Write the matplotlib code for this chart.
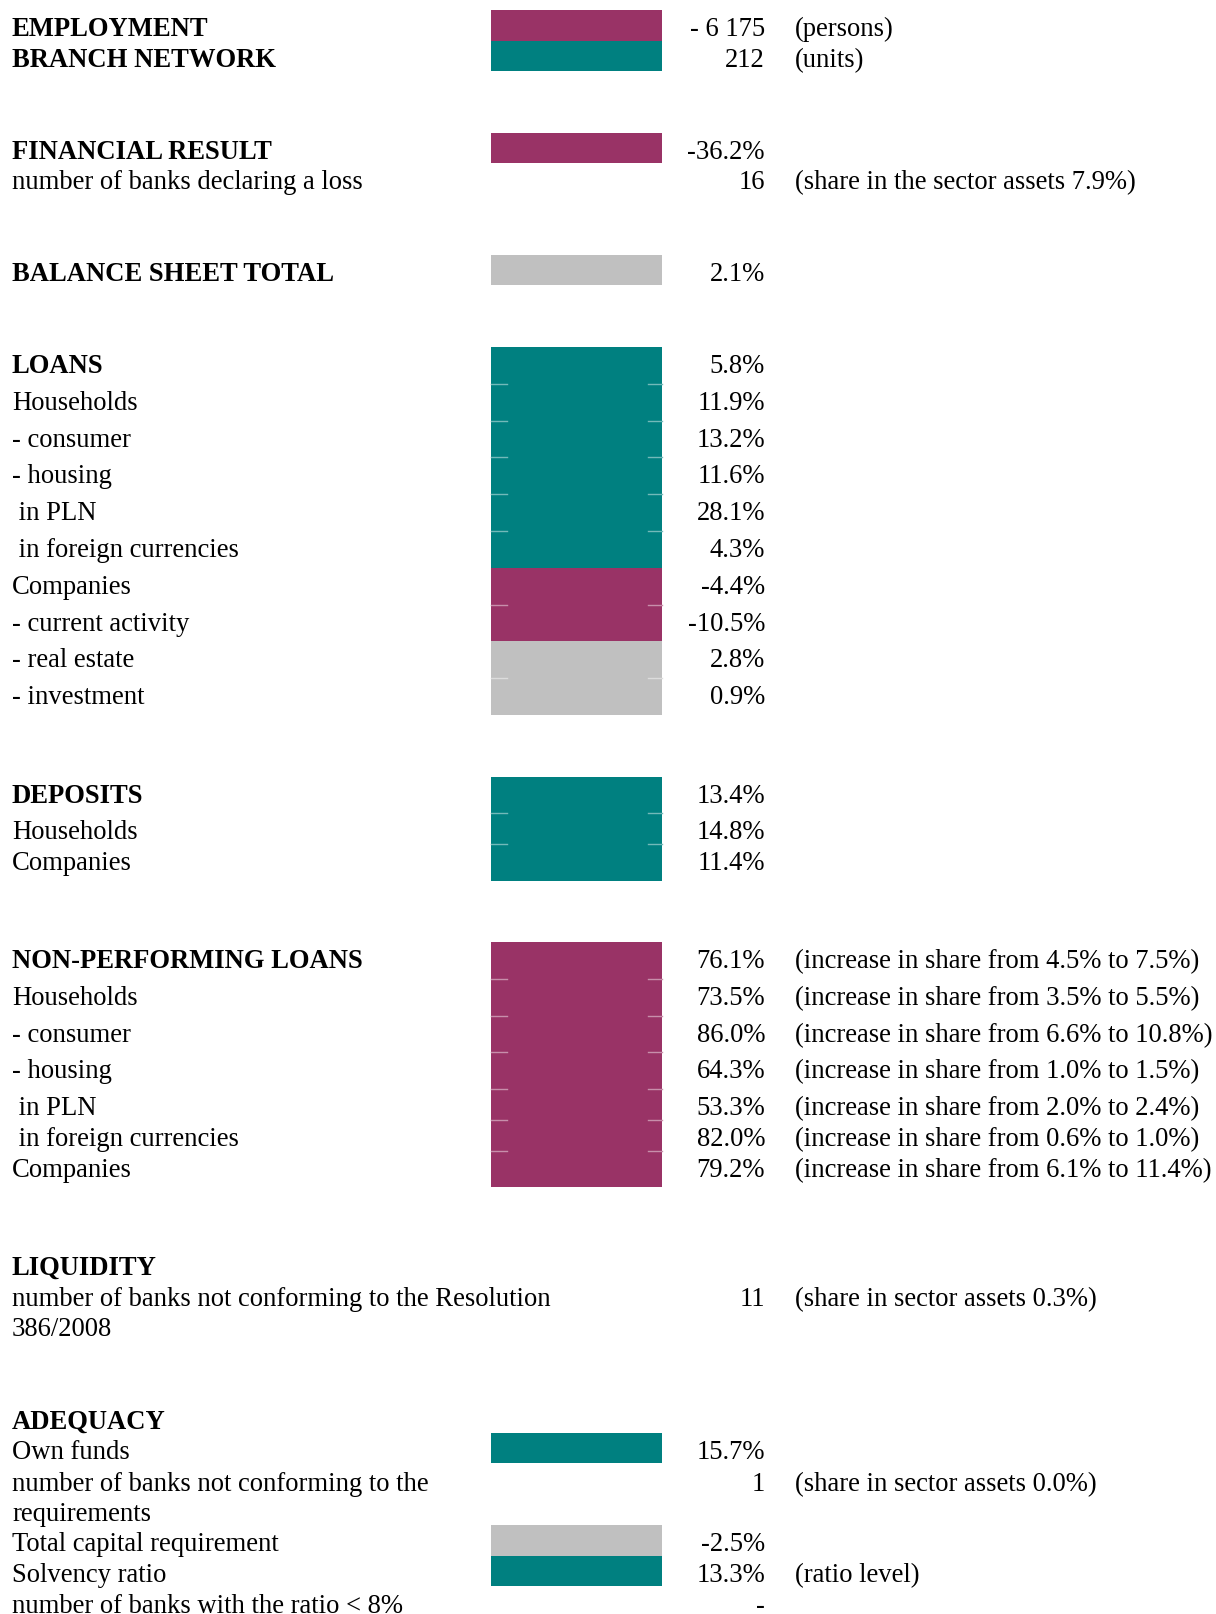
import matplotlib
matplotlib.use("Agg")
import matplotlib.pyplot as plt
from matplotlib.colors import to_rgb

# ---- data ----
labels = [
    "EMPLOYMENT", "BRANCH NETWORK",
    "FINANCIAL RESULT", "number of banks declaring a loss",
    "BALANCE SHEET TOTAL",
    "LOANS", "Households", "- consumer", "- housing", " in PLN", " in foreign currencies",
    "Companies", "- current activity", "- real estate", "- investment",
    "DEPOSITS", "Households", "Companies",
    "NON-PERFORMING LOANS", "Households", "- consumer", "- housing", " in PLN",
    " in foreign currencies", "Companies",
    "LIQUIDITY", "number of banks not conforming to the Resolution\n386/2008",
    "ADEQUACY", "Own funds", "number of banks not conforming to the\nrequirements",
    "Total capital requirement", "Solvency ratio", "number of banks with the ratio < 8%",
]
values = [
    "- 6 175", "212",
    "-36.2%", "16",
    "2.1%",
    "5.8%", "11.9%", "13.2%", "11.6%", "28.1%", "4.3%",
    "-4.4%", "-10.5%", "2.8%", "0.9%",
    "13.4%", "14.8%", "11.4%",
    "76.1%", "73.5%", "86.0%", "64.3%", "53.3%", "82.0%", "79.2%",
    "", "11",
    "", "15.7%", "1",
    "-2.5%", "13.3%", "-",
]
notes = [
    "(persons)", "(units)",
    "", "(share in the sector assets 7.9%)",
    "",
    "", "", "", "", "", "",
    "", "", "", "",
    "", "", "",
    "(increase in share from 4.5% to 7.5%)",
    "(increase in share from 3.5% to 5.5%)",
    "(increase in share from 6.6% to 10.8%)",
    "(increase in share from 1.0% to 1.5%)",
    "(increase in share from 2.0% to 2.4%)",
    "(increase in share from 0.6% to 1.0%)",
    "(increase in share from 6.1% to 11.4%)",
    "", "(share in sector assets 0.3%)",
    "", "", "(share in sector assets 0.0%)",
    "", "(ratio level)", "",
]
bold = {"EMPLOYMENT", "BRANCH NETWORK", "FINANCIAL RESULT", "BALANCE SHEET TOTAL",
        "LOANS", "DEPOSITS", "NON-PERFORMING LOANS", "LIQUIDITY", "ADEQUACY"}
# assessment of each item: bad / good / neutral / none
status = [
    "bad", "good",
    "bad", None,
    "neutral",
    "good", "good", "good", "good", "good", "good",
    "bad", "bad", "neutral", "neutral",
    "good", "good", "good",
    "bad", "bad", "bad", "bad", "bad", "bad", "bad",
    None, None,
    None, "good", None,
    "neutral", "good", None,
]

# ---- layout (pixel rows of the sheet) ----
row_top = [11, 42, 134, 164, 256,
           348, 385, 422, 458, 495, 532, 569, 606, 642, 679,
           778, 814, 845,
           943, 980, 1017, 1053, 1090, 1121, 1152,
           1250, 1281, 1404, 1434, 1466, 1526, 1557, 1588]
row_h = [31, 30, 30, 30, 30,
         37, 37, 36, 37, 37, 37, 37, 36, 37, 37,
         36, 31, 37,
         37, 37, 36, 37, 31, 31, 36,
         30, 30, 30, 30, 30, 31, 30, 30]

colors = {"bad": "#993366", "good": "#008080", "neutral": "#C0C0C0"}
W, H = 1216, 1615
bar_left, bar_w = 491, 171
x_label, x_value, x_note = 12, 765, 795
fs = 19.2
line_pitch = 30.5
text_drop = 18.5  # text sits near the top of its cell

plt.rcParams["font.family"] = ["Liberation Serif", "DejaVu Serif"]
fig = plt.figure(figsize=(W / 100, H / 100), dpi=100)
ax = fig.add_axes([0, 0, 1, 1])
ax.set_xlim(0, W)
ax.set_ylim(H, 0)
ax.axis("off")

# blocks
idx = [i for i, s in enumerate(status) if s]
ax.barh([row_top[i] + row_h[i] / 2 for i in idx], bar_w, left=bar_left,
        height=[row_h[i] for i in idx], color=[colors[status[i]] for i in idx],
        linewidth=0)

# faint cell-border ticks between stacked blocks of the same colour
for i in idx:
    if i + 1 < len(status) and status[i + 1] == status[i] and row_top[i] + row_h[i] == row_top[i + 1]:
        c = [0.55 * v + 0.45 for v in to_rgb(colors[status[i]])]
        yb = row_top[i + 1]
        ax.plot([bar_left, bar_left + 16], [yb, yb], color=c, lw=1)
        ax.plot([bar_left + bar_w - 14, bar_left + bar_w], [yb, yb], color=c, lw=1)

# text
for i, lab in enumerate(labels):
    yc = row_top[i] + text_drop
    weight = "bold" if lab in bold else "normal"
    for k, line in enumerate(lab.split("\n")):
        ax.text(x_label, yc + k * line_pitch, line, fontsize=fs, fontweight=weight,
                va="center", ha="left", color="black")
    if values[i]:
        ax.text(x_value, yc, values[i], fontsize=fs, va="center", ha="right")
    if notes[i]:
        ax.text(x_note, yc, notes[i], fontsize=fs, va="center", ha="left")

fig.savefig("out.png", dpi=100, facecolor="white")
